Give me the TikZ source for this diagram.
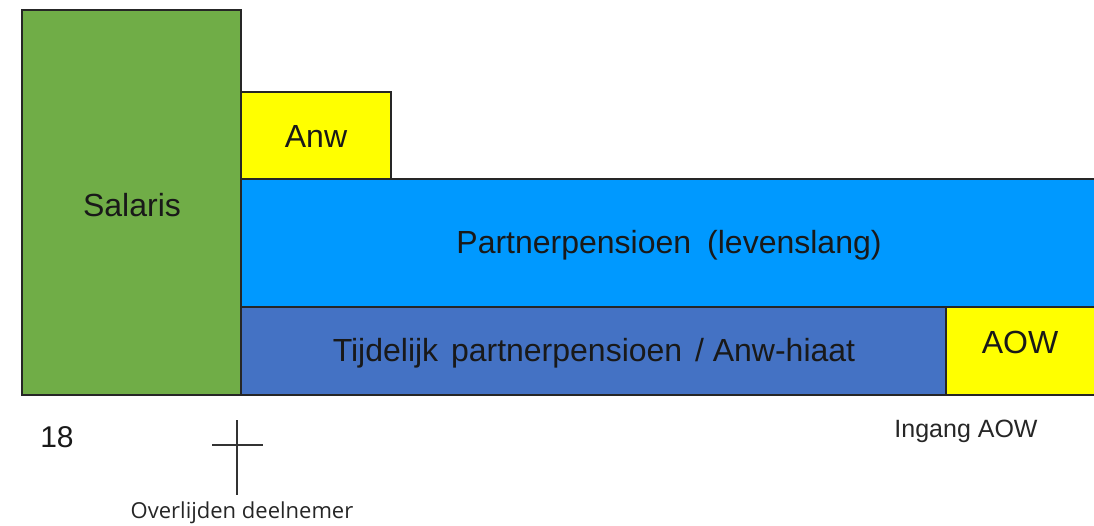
\documentclass[tikz,border=0pt]{standalone}
\usepackage{fontspec}
\setmainfont{Liberation Sans}
\newfontfamily\osans{Open Sans}
\definecolor{cgreen}{HTML}{70AD47}
\definecolor{cyellow}{HTML}{FFFF00}
\definecolor{cblue}{HTML}{0099FF}
\definecolor{cdblue}{HTML}{4472C4}
\begin{document}
\begin{tikzpicture}[x=1pt,y=-1pt,
  blk/.style={draw=black!85,line width=1.5pt},
  lbl/.style={font=\fontsize{32}{36}\selectfont,text=black!90},
  small/.style={font=\fontsize{25}{28}\selectfont,text=black!85},
  osm/.style={font=\osans\fontsize{22}{26}\selectfont,text=black!85}]
\useasboundingbox (0,0) rectangle (1094,525);
\fill[cblue] (241,179) rectangle (1094,307);
\draw[blk] (1094,179) -- (241,179) -- (241,307) -- (1094,307);
\filldraw[blk,fill=cgreen] (22,10) rectangle (241,395);
\filldraw[blk,fill=cyellow] (241,92) rectangle (391,179);
\filldraw[blk,fill=cdblue] (241,307) rectangle (946,395);
\fill[cyellow] (946,307) rectangle (1094,395);
\draw[blk] (1094,307) -- (946,307) -- (946,395) -- (1094,395);
\node[lbl] (salaris) at (132,205) {Salaris};
\node[lbl] (anw) at (316,136) {Anw};
\node[lbl] (pp) at (669,245) {Partnerpensioen\hspace{0.5em}(levenslang)};
\node[lbl] (tp) at (594,353) {Tijdelijk\hspace{0.4em}partnerpensioen\hspace{0.4em}/ Anw-hiaat};
\node[lbl] (aow) at (1020,342) {AOW};
\node[lbl,font=\fontsize{30}{34}\selectfont] (n18) at (57,437) {18};
\coordinate (ct) at (237,420);
\coordinate (cb) at (237,495);
\coordinate (cl) at (212,445);
\coordinate (cr) at (263,445);
\draw[line width=1.5pt,black!80] (ct) -- (cb) (cl) -- (cr);
\node[osm] (ov) at (242,513) {Overlijden deelnemer};
\node[small] (ing) at (966,431) {Ingang AOW};
\end{tikzpicture}
\end{document}
